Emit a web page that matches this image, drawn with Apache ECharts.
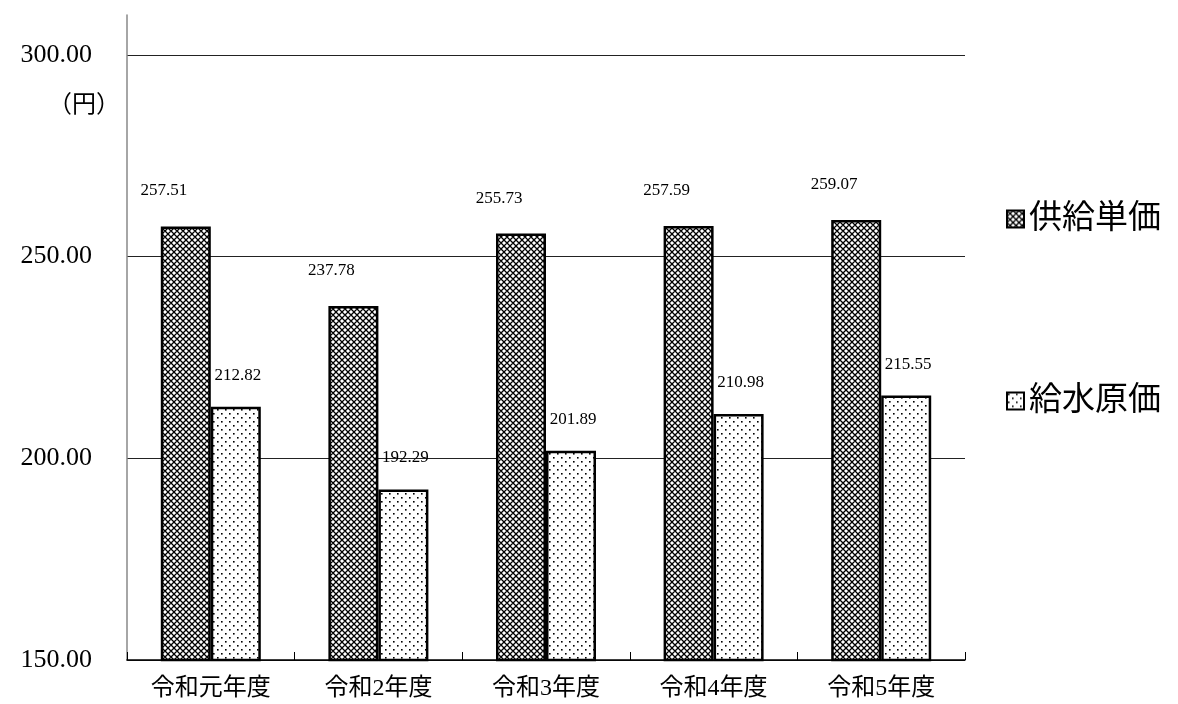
<!DOCTYPE html>
<html><head><meta charset="utf-8">
<script src="https://cdn.jsdelivr.net/npm/echarts@6/dist/echarts.min.js"></script>
<style>html,body{margin:0;padding:0;background:#fff}#c{width:1178px;height:704px}</style>
</head><body><div id="c"></div>
<script>
const categories = ['令和元年度','令和2年度','令和3年度','令和4年度','令和5年度'];
const supplyPrice = [257.51, 237.78, 255.73, 257.59, 259.07];
const waterCost = [212.82, 192.29, 201.89, 210.98, 215.55];
const seriesNames = ['供給単価','給水原価'];
const yTicks = {min:150, max:300, interval:50};

function crossPattern(){
  const c=document.createElement('canvas');c.width=6;c.height=6;
  const g=c.getContext('2d');g.fillStyle='#fff';g.fillRect(0,0,6,6);
  g.strokeStyle='#000';g.lineWidth=1.3;
  g.beginPath();g.moveTo(0,0);g.lineTo(6,6);g.moveTo(6,0);g.lineTo(0,6);
  g.moveTo(-3,3);g.lineTo(3,9);g.moveTo(3,-3);g.lineTo(9,3);
  g.moveTo(3,-3);g.lineTo(-3,3);g.moveTo(9,3);g.lineTo(3,9);
  g.stroke();return c;
}
function dotPattern(){
  const c=document.createElement('canvas');c.width=8;c.height=8;
  const g=c.getContext('2d');g.fillStyle='#fff';g.fillRect(0,0,8,8);
  g.fillStyle='#000';g.fillRect(1,1,1.6,1.6);g.fillRect(5,5,1.6,1.6);
  return c;
}
const serif = '"Liberation Serif","Noto Sans CJK JP",serif';
const chart = echarts.init(document.getElementById('c'));
chart.setOption({
  animation:false,
  backgroundColor:'#fff',
  grid:[{left:127,right:213,top:55,bottom:44},{left:127,width:1,top:15,bottom:44}],
  legend:{orient:'vertical',left:1001,top:196,itemWidth:17,itemHeight:17,itemGap:146,icon:'rect',
    textStyle:{fontFamily:serif,fontSize:33,color:'#000',lineHeight:36},
    data:seriesNames},
  xAxis:[{type:'category',data:categories,gridIndex:0,
    axisLine:{lineStyle:{color:'#000',width:1.5}},
    axisTick:{show:true,inside:true,length:8,lineStyle:{color:'#000',width:1}},
    axisLabel:{fontFamily:serif,fontSize:24,color:'#000',margin:17}},
    {type:'value',gridIndex:1,show:false}],
  yAxis:[{type:'value',gridIndex:0,min:yTicks.min,max:yTicks.max,interval:yTicks.interval,
    axisLine:{show:false},axisTick:{show:false},
    splitLine:{lineStyle:{color:'#222',width:1}},
    axisLabel:{fontFamily:serif,fontSize:26,color:'#000',margin:35,formatter:v=>v.toFixed(2)}},
    {type:'value',gridIndex:1,min:0,max:1,axisLine:{show:true,lineStyle:{color:'#888',width:1.5}},
     axisTick:{show:false},axisLabel:{show:false},splitLine:{show:false}}],
  graphic:[{type:'text',left:48,top:94,style:{text:'（円）',font:'24px '+serif,fill:'#000'}}],
  series:[
    {name:seriesNames[0],type:'bar',data:supplyPrice,barWidth:50,barGap:'0%',
     itemStyle:{color:{image:crossPattern(),repeat:'repeat'},borderColor:'#000',borderWidth:2.5},
     label:{show:true,position:'top',offset:[-22,-22],fontFamily:serif,fontSize:17,color:'#000',formatter:p=>p.value.toFixed(2)}},
    {name:seriesNames[1],type:'bar',data:waterCost,barWidth:50,
     itemStyle:{color:{image:dotPattern(),repeat:'repeat'},borderColor:'#000',borderWidth:2.5},
     label:{show:true,position:'top',offset:[2,-18],fontFamily:serif,fontSize:17,color:'#000',formatter:p=>p.value.toFixed(2)}}
  ]
});
</script></body></html>
